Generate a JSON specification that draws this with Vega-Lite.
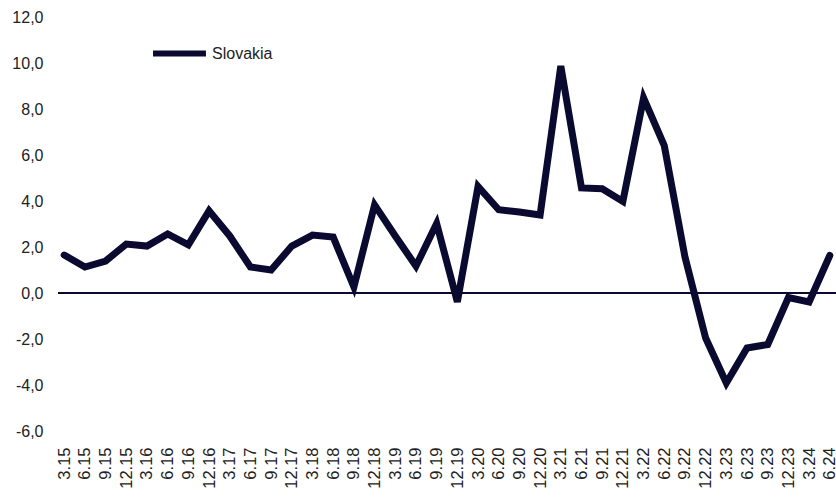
{
  "$schema": "https://vega.github.io/schema/vega-lite/v6.json",
  "width": 778,
  "height": 414,
  "autosize": {"type": "none"},
  "padding": {"left": 58, "top": 17, "right": 0, "bottom": 68},
  "config": {
    "view": {"stroke": null},
    "font": "Liberation Sans",
    "locale": {"number": {"decimal": ",", "thousands": ".", "grouping": [3], "currency": ["", " €"], "minus": "-"}}
  },
  "data": {
    "values": [
      {"q": "3.15", "v": 1.65}, {"q": "6.15", "v": 1.13}, {"q": "9.15", "v": 1.39}, {"q": "12.15", "v": 2.13},
      {"q": "3.16", "v": 2.04}, {"q": "6.16", "v": 2.57}, {"q": "9.16", "v": 2.09}, {"q": "12.16", "v": 3.57},
      {"q": "3.17", "v": 2.48}, {"q": "6.17", "v": 1.13}, {"q": "9.17", "v": 1.0}, {"q": "12.17", "v": 2.04},
      {"q": "3.18", "v": 2.52}, {"q": "6.18", "v": 2.43}, {"q": "9.18", "v": 0.26}, {"q": "12.18", "v": 3.83},
      {"q": "3.19", "v": 2.48}, {"q": "6.19", "v": 1.17}, {"q": "9.19", "v": 3.02}, {"q": "12.19", "v": -0.39},
      {"q": "3.20", "v": 4.63}, {"q": "6.20", "v": 3.62}, {"q": "9.20", "v": 3.52}, {"q": "12.20", "v": 3.39},
      {"q": "3.21", "v": 9.87}, {"q": "6.21", "v": 4.57}, {"q": "9.21", "v": 4.53}, {"q": "12.21", "v": 3.98},
      {"q": "3.22", "v": 8.48}, {"q": "6.22", "v": 6.41}, {"q": "9.22", "v": 1.57}, {"q": "12.22", "v": -1.96},
      {"q": "3.23", "v": -3.91}, {"q": "6.23", "v": -2.39}, {"q": "9.23", "v": -2.24}, {"q": "12.23", "v": -0.2},
      {"q": "3.24", "v": -0.39}, {"q": "6.24", "v": 1.63}
    ]
  },
  "layer": [
    {
      "mark": {"type": "rule", "color": "#0a0a30", "strokeWidth": 1},
      "encoding": {"y": {"datum": 0, "type": "quantitative"}}
    },
    {
      "mark": {"type": "line", "strokeWidth": 7, "strokeJoin": "miter", "strokeCap": "round"},
      "encoding": {
        "x": {
          "field": "q", "type": "ordinal", "sort": null,
          "scale": {"type": "point", "padding": 0.3},
          "axis": {"title": null, "labelAngle": -90, "labelAlign": "right", "labelBaseline": "middle", "labelFontSize": 16.5, "labelColor": "#222", "labelPadding": 16, "ticks": false, "tickSize": 0, "domain": false, "grid": false}
        },
        "y": {
          "field": "v", "type": "quantitative",
          "scale": {"domain": [-6, 12], "nice": false},
          "axis": {"title": null, "values": [-6, -4, -2, 0, 2, 4, 6, 8, 10, 12], "format": ".1f", "labelFontSize": 16, "labelColor": "#222", "labelPadding": 15, "ticks": false, "tickSize": 0, "domain": false, "grid": false}
        },
        "color": {
          "datum": "Slovakia", "type": "nominal",
          "scale": {"range": ["#0a0a30"]},
          "legend": {"title": null, "orient": "none", "legendX": 92, "legendY": 7, "symbolType": "stroke", "symbolSize": 2800, "symbolStrokeWidth": 6, "labelFontSize": 16, "labelColor": "#222", "labelOffset": 3, "padding": 0}
        }
      }
    }
  ]
}
